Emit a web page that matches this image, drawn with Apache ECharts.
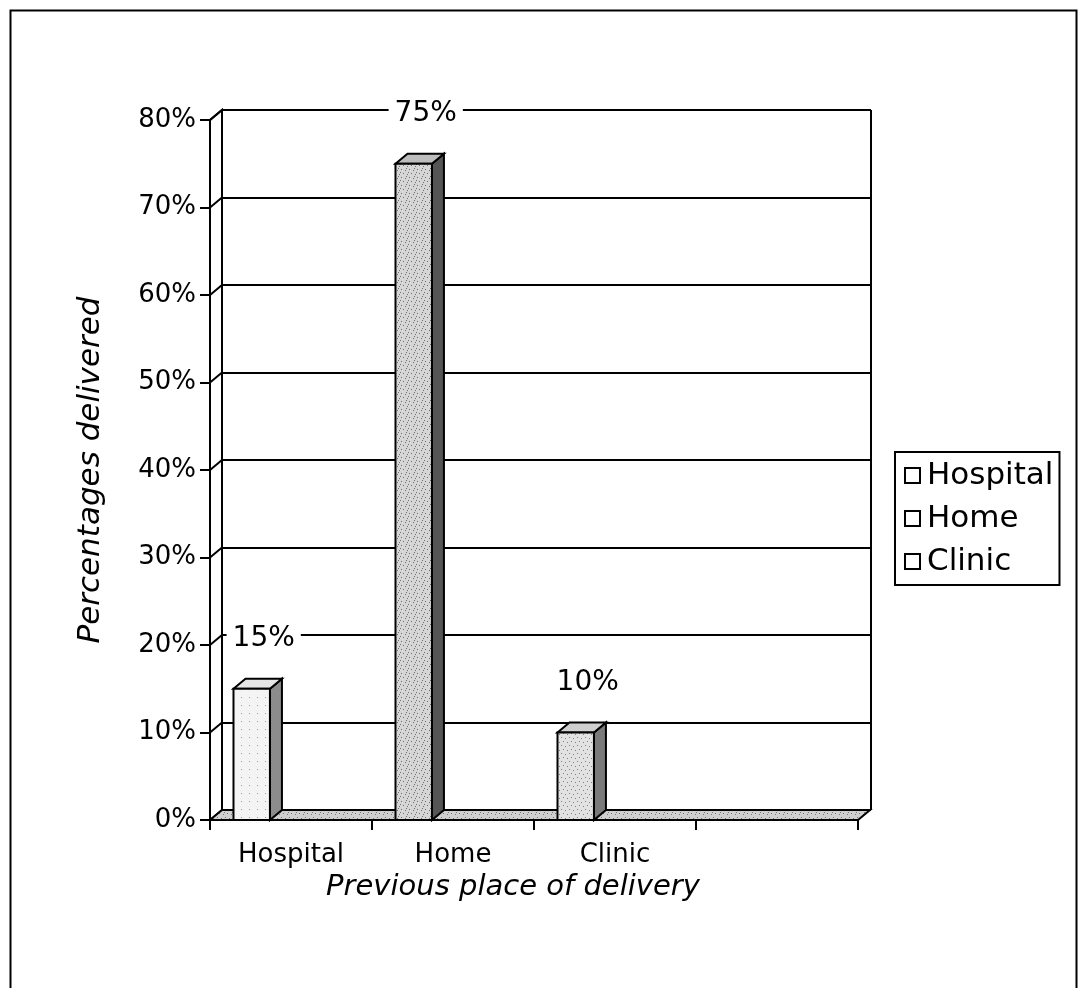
<!DOCTYPE html>
<html>
<head>
<meta charset="utf-8">
<script src="https://cdn.jsdelivr.net/npm/echarts@6/dist/echarts.min.js"></script>
<style>
  html, body { margin: 0; padding: 0; background: #fff; }
  #chart { width: 1078px; height: 988px; }
</style>
</head>
<body>
<div id="chart"></div>
<script>
// data
var categories = ['Hospital', 'Home', 'Clinic', ''];
var places = ['Hospital', 'Home', 'Clinic'];
var percentages = [15, 75, 10];
var yTicks = [0, 10, 20, 30, 40, 50, 60, 70, 80];

var FONT = 'DejaVu Sans';
var DX = 12, DY = 10;   // depth of the 3d look
var frontFill = ['#f4f4f4', '#d6d6d6', '#e2e2e2'];
var frontDots = ['#9a9a9a', '#707070', '#808080'];
var sideFill = ['#8c8c8c', '#555555', '#7a7a7a'];
var topFill = ['#e6e6e6', '#bdbdbd', '#cfcfcf'];

// small speckle texture like the scanned print
var speck = [[1, 1], [5, 2], [3, 5], [7, 6], [0, 4], [6, 0], [2, 7], [4, 3]];
function pattern(base, dot, n) {
	var c = document.createElement('canvas');
	c.width = 8; c.height = 8;
	var g = c.getContext('2d');
	g.fillStyle = base;
	g.fillRect(0, 0, 8, 8);
	g.fillStyle = dot;
	for (var k = 0; k < n; k++) g.fillRect(speck[k][0], speck[k][1], 1, 1);
	return { image: c, repeat: 'repeat' };
}
var frontPat = [pattern(frontFill[0], frontDots[0], 1), pattern(frontFill[1], frontDots[1], 6), pattern(frontFill[2], frontDots[2], 4)];
var floorPat = pattern('#cfcfcf', '#777', 5);

var myChart = echarts.init(document.getElementById('chart'));

function barItem(idx) {
	return function (params, api) {
		var cx = api.coord([api.value(0), 0])[0];
		var y0 = api.coord([api.value(0), 0])[1];
		var y1 = api.coord([api.value(0), api.value(1)])[1];
		var band = api.size([1, 0])[0];
		var x0 = cx - band / 2 + band * 0.145;
		var w = band * 0.225;
		var x1 = x0 + w;
		var line = { stroke: '#000', lineWidth: 2 };
		return {
			type: 'group',
			children: [
				{ type: 'polygon', shape: { points: [[x1, y0], [x1, y1], [x1 + DX, y1 - DY], [x1 + DX, y0 - DY]] },
				  style: Object.assign({ fill: sideFill[idx] }, line) },
				{ type: 'polygon', shape: { points: [[x0, y1], [x0 + DX, y1 - DY], [x1 + DX, y1 - DY], [x1, y1]] },
				  style: Object.assign({ fill: topFill[idx] }, line) },
				{ type: 'rect', shape: { x: x0, y: y1, width: w, height: y0 - y1 },
				  style: Object.assign({ fill: frontPat[idx] }, line) },
				{ type: 'text', z2: 10,
				  style: { text: api.value(1) + '%', x: x0 + w / 2 + DX / 2 + 6, y: y1 - 50,
				           align: 'center', verticalAlign: 'middle', font: '28px "' + FONT + '"',
				           fill: '#000', backgroundColor: '#fff', padding: [2, 6] } }
			]
		};
	};
}

// left wall + floor of the 3d box
function frameItem(params, api) {
	var cs = params.coordSys;
	var xl = cs.x, xr = cs.x + cs.width;
	var y0 = api.coord([0, 0])[1];
	var ytop = api.coord([0, yTicks[yTicks.length - 1]])[1];
	var line = { stroke: '#000', lineWidth: 2 };
	var kids = [
		{ type: 'polygon', shape: { points: [[xl, y0], [xl, ytop], [xl + DX, ytop - DY], [xl + DX, y0 - DY]] },
		  style: Object.assign({ fill: '#fff' }, line) },
		{ type: 'polygon', shape: { points: [[xl, y0], [xl + DX, y0 - DY], [xr + DX, y0 - DY], [xr, y0]] },
		  style: Object.assign({ fill: floorPat }, line) }
	];
	for (var i = 1; i < yTicks.length; i++) {
		var ty = api.coord([0, yTicks[i]])[1];
		kids.push({ type: 'line', shape: { x1: xl, y1: ty, x2: xl + DX, y2: ty - DY }, style: line });
	}
	return { type: 'group', children: kids };
}

var series = [{
	name: 'frame',
	type: 'custom',
	xAxisIndex: 0, yAxisIndex: 0,
	renderItem: frameItem,
	data: [[0, 0]],
	silent: true,
	z: 1
}];
for (var i = 0; i < places.length; i++) {
	series.push({
		name: places[i],
		type: 'custom',
		xAxisIndex: 0, yAxisIndex: 0,
		renderItem: barItem(i),
		itemStyle: { color: frontFill[i] },
		data: [[i, percentages[i]]],
		z: 3
	});
}

var option = {
	animation: false,
	textStyle: { fontFamily: FONT, color: '#000' },
	graphic: [{
		type: 'rect', left: 8, top: 8,
		shape: { width: 1066, height: 1000 },
		style: { fill: 'none', stroke: '#000', lineWidth: 2 }
	}],
	legend: {
		data: places,
		orient: 'vertical',
		left: 895, top: 452,
		padding: [8, 6, 8, 9],
		itemGap: 12,
		itemWidth: 15, itemHeight: 15,
		icon: 'rect',
		itemStyle: { color: '#fff', borderColor: '#000', borderWidth: 2 },
		borderColor: '#000', borderWidth: 2,
		textStyle: { fontFamily: FONT, fontSize: 31, color: '#000', lineHeight: 30, padding: [0, 0, 0, 2] }
	},
	grid: [
		{ left: 210, right: 220, top: 120, bottom: 168 },   // front axes
		{ left: 222, right: 207, top: 110, bottom: 178 }    // back wall
	],
	xAxis: [{
		type: 'category',
		gridIndex: 0,
		data: categories,
		boundaryGap: true,
		axisLine: { lineStyle: { color: '#000', width: 2 } },
		axisTick: { show: true, length: 10, interval: 0, lineStyle: { color: '#000', width: 2 } },
		axisLabel: { margin: 22, fontSize: 26, color: '#000', fontFamily: FONT, interval: 0 },
		name: 'Previous place of delivery',
		nameLocation: 'middle',
		nameGap: 50,
		nameTextStyle: { fontSize: 29, fontStyle: 'italic', color: '#000', fontFamily: FONT, padding: [0, 42, 0, 0] },
		splitLine: { show: false }
	}, {
		type: 'value',
		gridIndex: 1,
		min: 0, max: 1, interval: 1,
		axisLine: { show: false }, axisTick: { show: false }, axisLabel: { show: false },
		splitLine: { show: true, lineStyle: { color: '#000', width: 2 } }
	}],
	yAxis: [{
		type: 'value',
		gridIndex: 0,
		min: 0, max: 80, interval: 10,
		axisLine: { show: true, lineStyle: { color: '#000', width: 2 } },
		axisTick: { show: true, length: 10, lineStyle: { color: '#000', width: 2 } },
		axisLabel: { margin: 14, fontSize: 26, color: '#000', fontFamily: FONT, formatter: '{value}%' },
		splitLine: { show: false },
		name: 'Percentages delivered',
		nameLocation: 'middle',
		nameGap: 104,
		nameTextStyle: { fontSize: 31, fontStyle: 'italic', color: '#000', fontFamily: FONT }
	}, {
		type: 'value',
		gridIndex: 1,
		min: 0, max: 80, interval: 10,
		axisLine: { show: false }, axisTick: { show: false }, axisLabel: { show: false },
		splitLine: { show: true, lineStyle: { color: '#000', width: 2 } }
	}],
	series: series
};

myChart.setOption(option);
</script>
</body>
</html>
